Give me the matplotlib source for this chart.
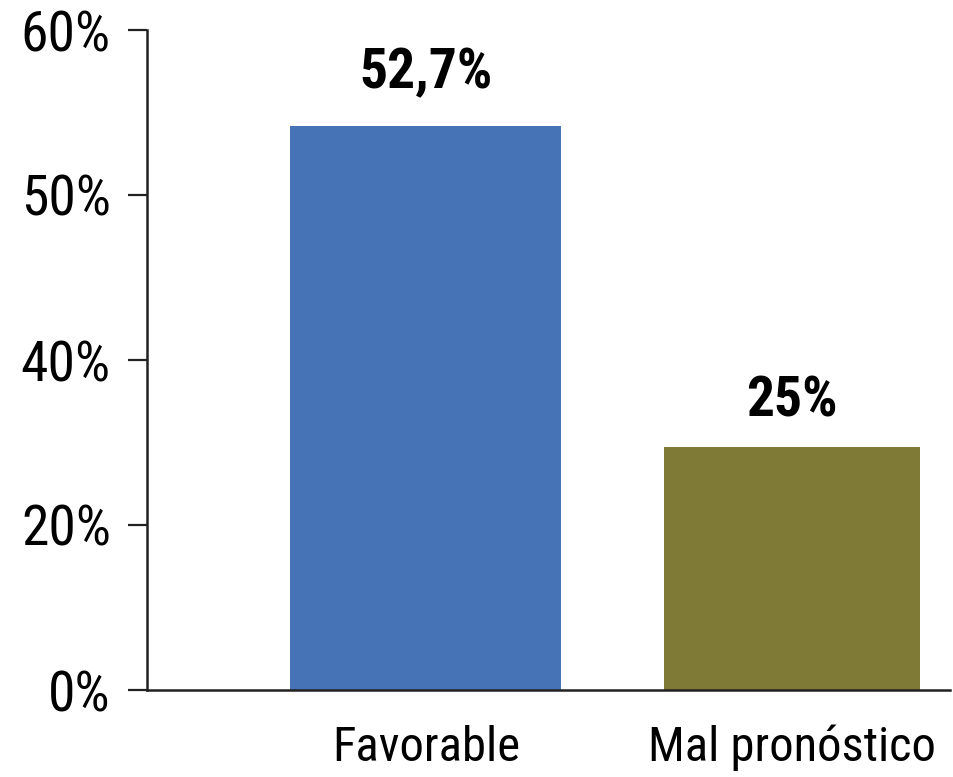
#!/usr/bin/env python3
"""Bar chart: favorable vs. mal pronóstico."""

import matplotlib
matplotlib.use("Agg")
import matplotlib.pyplot as plt

# data (bar heights are read off the drawn axis, in tick-step units;
# the printed labels are the values the figure states)
categories = ["Favorable", "Mal pronóstico"]
drawn_heights = [3.42, 1.47]
value_labels = ["52,7%", "25%"]
tick_labels = ["0%", "20%", "40%", "50%", "60%"]

COLORS = ["#4573B5", "#7F7B37"]
plt.rcParams["font.family"] = ["Roboto Condensed", "Liberation Sans", "DejaVu Sans"]

fig = plt.figure(figsize=(9.54, 7.77), dpi=100)
ax = fig.add_axes([147 / 954, 87 / 777, 803 / 954, 660 / 777])

x = [0, 1]
ax.bar(x, drawn_heights, width=[0.74, 0.70], color=COLORS)

label_offsets = [27, 22]  # points above the bar top
for xi, h, lab, off in zip(x, drawn_heights, value_labels, label_offsets):
    ax.annotate(lab, (xi, h), xytext=(0, off), textcoords="offset points",
                ha="center", va="baseline", fontsize=40, fontweight="bold")

ax.set_xlim(-0.762, 1.432)
ax.set_ylim(0, 4)
ax.set_yticks(range(len(tick_labels)), tick_labels)
ax.set_xticks(x, categories)

ax.spines[["top", "right"]].set_visible(False)
for s in ("left", "bottom"):
    ax.spines[s].set_linewidth(1.8)
    ax.spines[s].set_color("#222222")
ax.tick_params(axis="y", length=14, width=1.6, pad=12, labelsize=40, color="#222222")
ax.tick_params(axis="x", length=0, pad=25, labelsize=35)

fig.savefig("out.png", dpi=100, facecolor="white")
